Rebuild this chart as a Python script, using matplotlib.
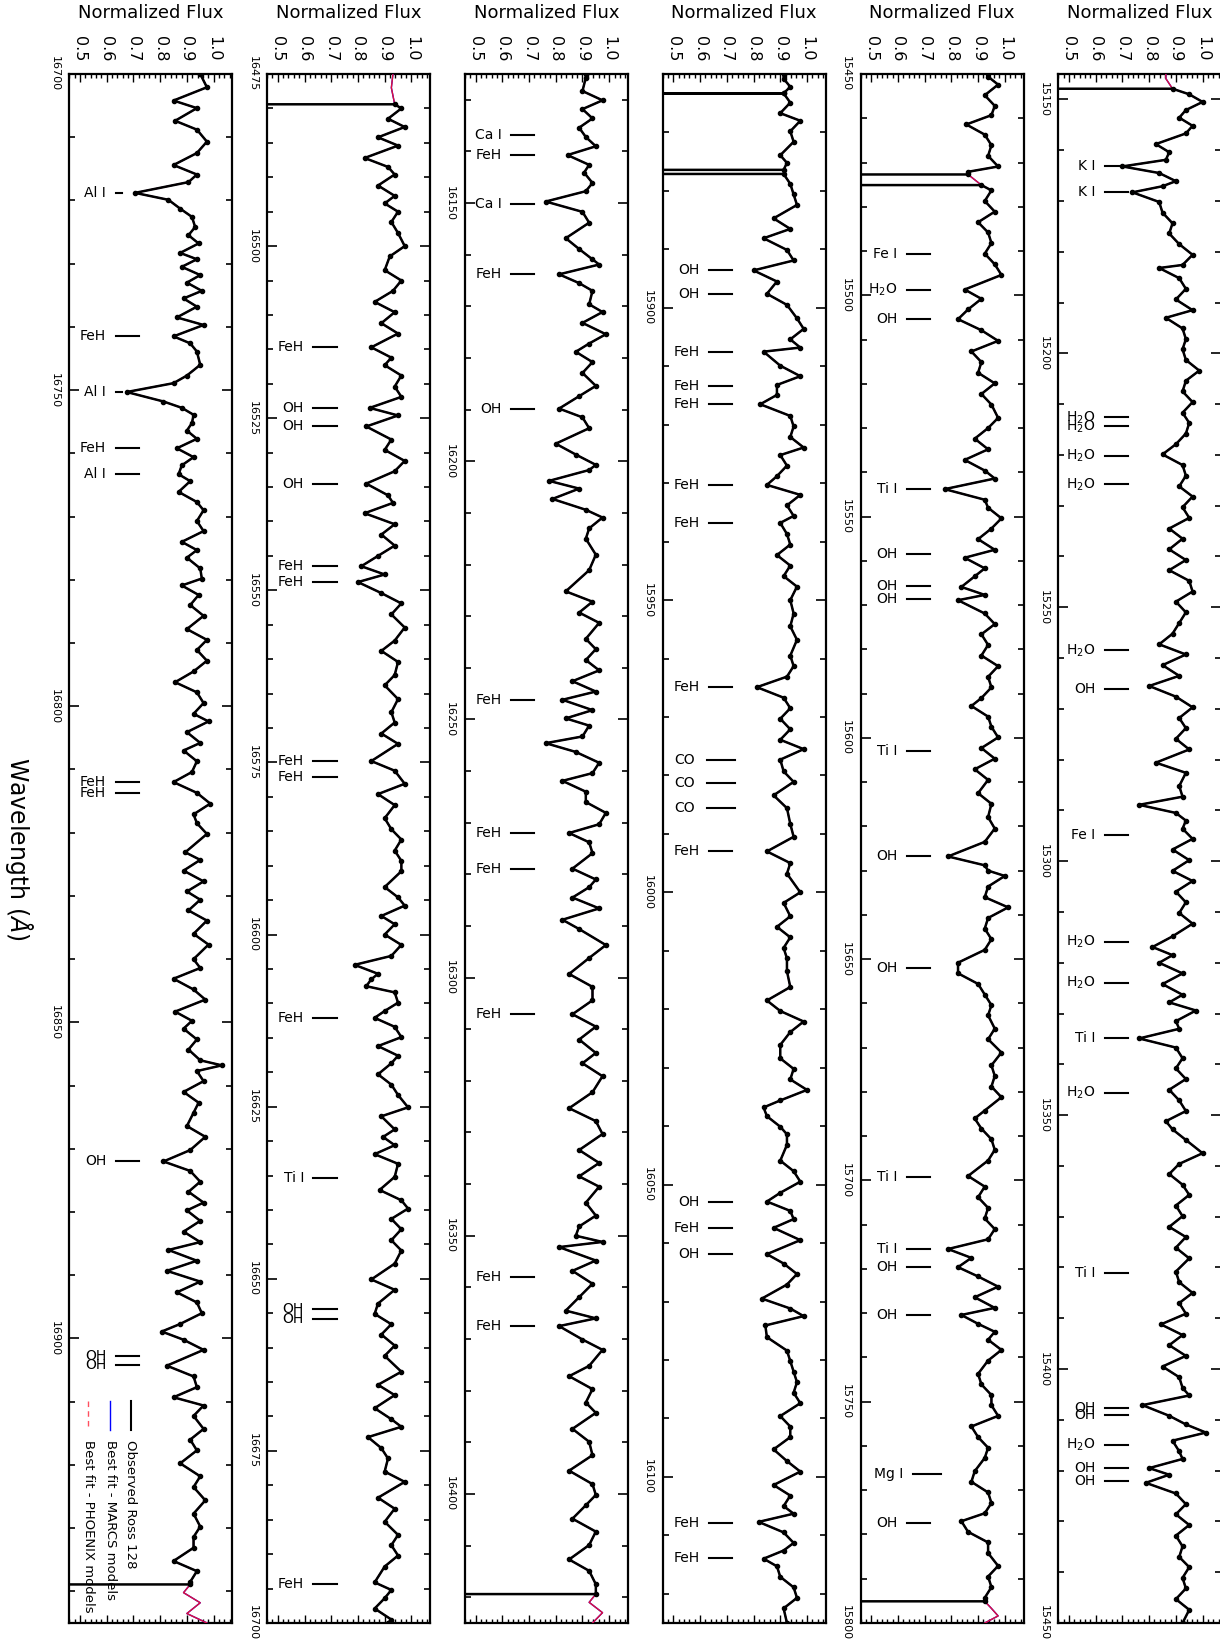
import numpy as np
import matplotlib
matplotlib.use("Agg")
import matplotlib.pyplot as plt
from matplotlib.ticker import MultipleLocator, FormatStrFormatter

# ---------------- data ----------------
# each spectrum: (wavelength [A], normalized flux) knots; models follow the observed curve
spec_p1 = [(16700.0, 0.95), (16702.1, 0.975), (16704.2, 0.85), (16705.4, 0.9375), (16707.4, 0.856), (16708.8, 0.9375),
           (16710.7, 0.975), (16712.5, 0.9375), (16714.4, 0.85), (16715.9, 0.9375), (16717.1, 0.906), (16718.8, 0.706),
           (16719.9, 0.831), (16721.3, 0.875), (16722.6, 0.919), (16724.2, 0.931), (16725.5, 0.906), (16726.8, 0.944),
           (16728.3, 0.875), (16729.3, 0.9375), (16730.5, 0.881), (16731.8, 0.95), (16733.0, 0.90), (16734.3, 0.956),
           (16735.5, 0.8875), (16736.8, 0.9375), (16738.5, 0.8625), (16739.7, 0.9625), (16741.5, 0.85), (16742.6, 0.9125),
           (16743.9, 0.9375), (16746.0, 0.95), (16747.7, 0.90), (16748.9, 0.85), (16750.3, 0.675), (16751.8, 0.8125),
           (16752.8, 0.881), (16753.9, 0.925), (16755.2, 0.919), (16756.4, 0.90), (16757.7, 0.9375), (16759.2, 0.8625),
           (16760.6, 0.925), (16761.9, 0.881), (16763.3, 0.869), (16764.4, 0.9125), (16766.1, 0.869), (16767.7, 0.9375),
           (16769.0, 0.9625), (16770.7, 0.9375), (16772.3, 0.9625), (16774.0, 0.881), (16775.3, 0.9375), (16776.5, 0.90),
           (16778.2, 0.95), (16779.8, 0.956), (16780.9, 0.881), (16782.4, 0.944), (16784.0, 0.9125), (16785.7, 0.9625),
           (16787.8, 0.90), (16789.5, 0.975), (16791.1, 0.9375), (16792.8, 0.975), (16794.5, 0.925), (16796.2, 0.856),
           (16797.8, 0.9375), (16799.5, 0.9625), (16801.2, 0.925), (16802.4, 0.981), (16804.1, 0.90), (16805.8, 0.95),
           (16807.0, 0.8875), (16808.7, 0.9375), (16810.4, 0.919), (16812.0, 0.85), (16813.7, 0.9375), (16815.4, 0.9875),
           (16817.1, 0.925), (16818.5, 0.9375), (16820.2, 0.975), (16823.1, 0.894), (16824.3, 0.95), (16826.0, 0.8875),
           (16827.7, 0.9625), (16829.3, 0.90), (16830.6, 0.95), (16832.3, 0.906), (16833.9, 0.975), (16836.0, 0.925),
           (16837.7, 0.981), (16840.0, 0.925), (16841.4, 0.95), (16843.1, 0.85), (16844.8, 0.925), (16846.4, 0.969),
           (16848.3, 0.856), (16849.75, 0.919), (16851.0, 0.8875), (16852.7, 0.9375), (16854.3, 0.906), (16856.0, 0.95),
           (16856.8, 1.031), (16857.7, 0.9375), (16859.3, 0.9625), (16861.0, 0.8875), (16862.7, 0.944), (16864.3, 0.925),
           (16866.4, 0.90), (16868.1, 0.969), (16870.2, 0.9125), (16872.0, 0.8125), (16873.5, 0.9125), (16875.2, 0.95),
           (16876.8, 0.906), (16878.5, 0.9625), (16879.75, 0.90), (16881.4, 0.95), (16883.1, 0.8875), (16884.75, 0.95),
           (16886.0, 0.831), (16887.7, 0.9375), (16889.3, 0.825), (16891.0, 0.95), (16892.7, 0.8625), (16894.3, 0.9375),
           (16896.0, 0.956), (16897.7, 0.875), (16898.9, 0.806), (16900.2, 0.8875), (16901.8, 0.9625), (16904.3, 0.825),
           (16906.0, 0.925), (16907.7, 0.9375), (16909.3, 0.85), (16910.6, 0.9625), (16912.25, 0.925), (16914.3, 0.9625),
           (16916.0, 0.9125), (16917.7, 0.9375), (16919.75, 0.875), (16921.8, 0.95), (16923.5, 0.925), (16925.6, 0.969),
           (16927.7, 0.925), (16929.75, 0.95), (16931.4, 0.925), (16933.1, 0.925), (16935.2, 0.85), (16936.8, 0.9375),
           (16938.5, 0.9125), (16938.9, 0.9125), (16940.2, 0.8875), (16941.8, 0.95), (16943.5, 0.90), (16945.0, 0.975)]

spec_p2 = [(16475.0, 0.931), (16477.0, 0.925), (16479.4, 0.9375), (16480.0, 0.9625), (16481.5, 0.9125), (16482.7, 0.975),
           (16484.2, 0.875), (16485.4, 0.95), (16487.2, 0.825), (16488.5, 0.9125), (16489.6, 0.9375), (16491.2, 0.875),
           (16492.7, 0.9375), (16493.8, 0.90), (16495.0, 0.95), (16496.5, 0.925), (16498.1, 0.95), (16500.0, 0.975),
           (16501.5, 0.919), (16503.5, 0.90), (16505.0, 0.9625), (16506.5, 0.931), (16508.1, 0.8625), (16509.6, 0.9375),
           (16511.2, 0.8875), (16512.7, 0.95), (16514.7, 0.85), (16516.2, 0.925), (16517.3, 0.90), (16518.8, 0.9625),
           (16520.4, 0.9375), (16521.9, 0.9625), (16523.5, 0.844), (16524.6, 0.95), (16526.2, 0.831), (16528.1, 0.925),
           (16529.6, 0.90), (16531.2, 0.975), (16532.7, 0.9375), (16534.5, 0.831), (16536.2, 0.9125), (16537.3, 0.931),
           (16538.8, 0.825), (16540.4, 0.9375), (16541.9, 0.8875), (16543.5, 0.9375), (16545.0, 0.875), (16546.5, 0.8125),
           (16547.7, 0.90), (16548.8, 0.80), (16550.4, 0.8875), (16551.9, 0.9625), (16553.5, 0.925), (16555.4, 0.975),
           (16557.3, 0.9375), (16558.8, 0.8875), (16560.4, 0.95), (16562.3, 0.9375), (16563.8, 0.90), (16565.8, 0.95),
           (16567.7, 0.925), (16569.2, 0.9375), (16570.8, 0.8875), (16572.3, 0.95), (16574.8, 0.85), (16576.2, 0.9375),
           (16578.1, 0.975), (16579.6, 0.875), (16581.2, 0.9375), (16583.1, 0.90), (16584.7, 0.925), (16586.2, 0.9625),
           (16587.8, 0.9375), (16589.3, 0.9625), (16590.8, 0.9625), (16593.1, 0.90), (16594.6, 0.95), (16595.8, 0.975),
           (16597.3, 0.8875), (16598.5, 0.9375), (16600.0, 0.90), (16601.5, 0.9625), (16603.1, 0.925), (16604.4, 0.7875),
           (16605.7, 0.875), (16606.5, 0.85), (16607.5, 0.831), (16608.4, 0.9375), (16609.9, 0.95), (16611.1, 0.90),
           (16612.1, 0.8625), (16613.4, 0.9375), (16614.9, 0.9625), (16616.2, 0.875), (16617.6, 0.95), (16618.7, 0.925),
           (16620.3, 0.875), (16621.8, 0.925), (16623.3, 0.95), (16625.1, 0.9875), (16626.4, 0.8875), (16628.3, 0.9375),
           (16629.4, 0.894), (16630.6, 0.9375), (16631.9, 0.8625), (16633.3, 0.95), (16635.2, 0.9375), (16637.1, 0.881),
           (16638.6, 0.9625), (16639.8, 0.9875), (16641.3, 0.925), (16642.8, 0.9625), (16644.4, 0.925), (16645.9, 0.9625),
           (16647.8, 0.9375), (16650.1, 0.85), (16651.6, 0.9375), (16653.6, 0.875), (16655.1, 0.8625), (16656.6, 0.925),
           (16658.1, 0.8875), (16659.7, 0.9375), (16661.2, 0.90), (16663.5, 0.9625), (16665.4, 0.875), (16666.9, 0.9375),
           (16668.8, 0.8625), (16670.4, 0.925), (16671.5, 0.9625), (16673.0, 0.8375), (16674.6, 0.8875), (16676.1, 0.9125),
           (16678.0, 0.90), (16679.5, 0.975), (16681.8, 0.875), (16683.4, 0.9375), (16685.3, 0.90), (16687.2, 0.95),
           (16688.7, 0.925), (16690.2, 0.95), (16691.8, 0.90), (16694.1, 0.8625), (16695.2, 0.925), (16696.4, 0.90),
           (16697.9, 0.8625), (16699.5, 0.925), (16700.0, 0.9125)]

spec_p3 = [(16125.0, 0.9125), (16125.7, 0.9125), (16128.3, 0.90), (16130.1, 0.975), (16131.8, 0.90), (16133.6, 0.9375),
           (16135.4, 0.8875), (16137.2, 0.9125), (16139.0, 0.95), (16140.7, 0.844), (16142.6, 0.925), (16144.1, 0.906),
           (16146.1, 0.9375), (16147.7, 0.9125), (16149.7, 0.7625), (16151.7, 0.90), (16153.8, 0.925), (16156.8, 0.8375),
           (16158.9, 0.8875), (16160.9, 0.9375), (16161.9, 0.9625), (16163.8, 0.8125), (16165.5, 0.8875), (16167.0, 0.9375),
           (16169.6, 0.925), (16171.1, 0.975), (16173.2, 0.90), (16175.4, 0.9875), (16177.2, 0.925), (16178.8, 0.875),
           (16180.8, 0.9375), (16182.9, 0.90), (16185.4, 0.95), (16187.4, 0.8875), (16189.8, 0.8125), (16191.5, 0.90),
           (16193.6, 0.925), (16196.6, 0.80), (16198.7, 0.875), (16200.7, 0.95), (16201.7, 0.925), (16203.8, 0.775),
           (16205.3, 0.8875), (16207.3, 0.7875), (16209.4, 0.9125), (16210.9, 0.975), (16213.0, 0.925), (16215.0, 0.9125),
           (16218.1, 0.95), (16221.1, 0.925), (16225.2, 0.8375), (16227.2, 0.9375), (16229.3, 0.8875), (16231.3, 0.9625),
           (16234.4, 0.9125), (16236.4, 0.95), (16238.5, 0.9125), (16240.5, 0.9625), (16242.6, 0.8625), (16244.6, 0.95),
           (16246.2, 0.825), (16248.2, 0.9375), (16249.8, 0.8375), (16251.2, 0.925), (16253.3, 0.90), (16254.6, 0.7625),
           (16256.3, 0.875), (16258.4, 0.9625), (16260.4, 0.9375), (16261.9, 0.825), (16264.0, 0.9125), (16266.0, 0.9125),
           (16268.1, 0.9875), (16270.3, 0.9625), (16272.0, 0.85), (16273.8, 0.925), (16275.9, 0.9375), (16278.9, 0.8625),
           (16281.0, 0.95), (16282.5, 0.925), (16284.5, 0.8625), (16286.6, 0.9625), (16288.8, 0.825), (16290.6, 0.8875),
           (16293.7, 0.9875), (16296.2, 0.925), (16299.3, 0.85), (16301.8, 0.9375), (16304.4, 0.9375), (16307.1, 0.8625),
           (16309.5, 0.95), (16312.0, 0.8875), (16314.6, 0.95), (16316.6, 0.90), (16319.1, 0.975), (16322.2, 0.9375),
           (16325.3, 0.85), (16327.8, 0.95), (16330.3, 0.975), (16333.4, 0.8875), (16335.9, 0.9625), (16338.5, 0.8875),
           (16340.5, 0.9625), (16343.6, 0.9125), (16346.1, 0.95), (16348.2, 0.8875), (16350.0, 0.875), (16351.2, 0.975),
           (16352.2, 0.8125), (16354.8, 0.95), (16356.8, 0.8625), (16359.3, 0.9375), (16361.9, 0.8875), (16364.5, 0.8375),
           (16366.0, 0.95), (16367.5, 0.8125), (16370.1, 0.90), (16372.1, 0.975), (16375.2, 0.925), (16377.2, 0.85),
           (16379.7, 0.9375), (16382.3, 0.9125), (16384.3, 0.95), (16387.4, 0.8625), (16389.9, 0.925), (16392.5, 0.9375),
           (16395.5, 0.85), (16398.1, 0.9375), (16400.2, 0.95), (16402.2, 0.9125), (16404.8, 0.8625), (16407.3, 0.95),
           (16409.9, 0.925), (16412.7, 0.85), (16414.9, 0.925), (16417.5, 0.95), (16419.4, 0.95), (16421.0, 0.925),
           (16423.0, 0.975), (16425.0, 0.9375)]

spec_p4 = [(15860.0, 0.9125), (15860.8, 0.9125), (15862.2, 0.9375), (15863.3, 0.9125), (15864.9, 0.9375), (15866.7, 0.90),
           (15868.0, 0.975), (15869.8, 0.9375), (15871.6, 0.95), (15873.9, 0.90), (15875.2, 0.925), (15876.4, 0.9125),
           (15877.1, 0.9125), (15878.8, 0.9375), (15880.6, 0.95), (15882.4, 0.9625), (15884.7, 0.875), (15886.5, 0.9375),
           (15888.1, 0.8375), (15890.1, 0.925), (15891.9, 0.95), (15893.6, 0.80), (15895.5, 0.8875), (15897.6, 0.85),
           (15899.5, 0.925), (15901.8, 0.9625), (15903.6, 0.9875), (15905.4, 0.9375), (15906.8, 0.975), (15907.5, 0.8375),
           (15909.9, 0.90), (15911.7, 0.975), (15913.2, 0.8875), (15914.9, 0.8875), (15916.5, 0.825), (15918.5, 0.9375),
           (15920.3, 0.95), (15922.1, 0.9375), (15923.9, 0.9875), (15925.2, 0.90), (15927.0, 0.925), (15928.8, 0.8875),
           (15930.3, 0.85), (15932.0, 0.975), (15933.8, 0.925), (15935.6, 0.95), (15936.8, 0.90), (15938.7, 0.925),
           (15940.5, 0.9375), (15942.3, 0.8875), (15944.1, 0.9375), (15945.9, 0.9125), (15947.7, 0.9625), (15950.0, 0.9375),
           (15952.3, 0.95), (15954.5, 0.9375), (15956.8, 0.9625), (15959.5, 0.9375), (15961.3, 0.95), (15963.1, 0.925),
           (15964.9, 0.8125), (15966.7, 0.9125), (15968.5, 0.9375), (15970.3, 0.90), (15972.1, 0.9375), (15973.9, 0.90),
           (15975.5, 0.9875), (15977.3, 0.90), (15979.3, 0.9125), (15981.1, 0.95), (15983.4, 0.875), (15985.6, 0.925),
           (15988.3, 0.9375), (15990.5, 0.95), (15993.0, 0.85), (15995.0, 0.9375), (15996.8, 0.925), (16000.0, 0.975),
           (16001.8, 0.9125), (16004.1, 0.9375), (16005.9, 0.8875), (16007.7, 0.9375), (16009.5, 0.9125), (16011.3, 0.925),
           (16013.5, 0.925), (16016.2, 0.9375), (16018.5, 0.85), (16020.3, 0.90), (16022.1, 0.9875), (16023.9, 0.9375),
           (16026.1, 0.90), (16028.4, 0.90), (16030.2, 0.95), (16032.0, 0.9375), (16033.8, 1.0), (16035.6, 0.90),
           (16036.8, 0.8375), (16038.3, 0.85), (16040.1, 0.90), (16041.4, 0.925), (16043.2, 0.925), (16045.9, 0.90),
           (16047.7, 0.95), (16049.5, 0.975), (16051.4, 0.90), (16052.9, 0.85), (16054.5, 0.9375), (16055.9, 0.95),
           (16057.4, 0.875), (16059.5, 0.975), (16061.9, 0.85), (16063.5, 0.9125), (16065.3, 0.9625), (16067.1, 0.925),
           (16069.5, 0.831), (16071.2, 0.9375), (16072.5, 0.9875), (16074.1, 0.844), (16076.1, 0.85), (16078.4, 0.925),
           (16080.2, 0.9375), (16082.0, 0.95), (16083.8, 0.9625), (16085.6, 0.95), (16087.4, 0.975), (16089.6, 0.90),
           (16091.4, 0.9375), (16093.2, 0.9375), (16095.3, 0.875), (16097.3, 0.925), (16099.1, 0.975), (16101.4, 0.875),
           (16103.2, 0.9375), (16105.0, 0.9125), (16106.3, 0.95), (16107.7, 0.819), (16109.5, 0.9125), (16111.3, 0.95),
           (16112.6, 0.9125), (16114.0, 0.8375), (16115.3, 0.8875), (16117.1, 0.90), (16118.9, 0.95), (16120.7, 0.9625),
           (16122.5, 0.9125), (16125.0, 0.925)]

spec_p5 = [(15450.0, 0.9375), (15450.6, 0.9375), (15452.4, 0.975), (15454.8, 0.925), (15457.2, 0.9625), (15459.3, 0.95),
           (15461.4, 0.856), (15463.7, 0.925), (15466.1, 0.95), (15468.5, 0.9375), (15470.9, 0.975), (15472.1, 0.8625),
           (15472.7, 0.8625), (15475.1, 0.9125), (15476.3, 0.95), (15478.7, 0.925), (15481.1, 0.9625), (15483.5, 0.90),
           (15485.8, 0.9375), (15488.2, 0.95), (15490.6, 0.925), (15493.0, 0.9625), (15495.4, 0.9875), (15498.7, 0.85),
           (15500.8, 0.9125), (15503.2, 0.8625), (15505.4, 0.825), (15507.9, 0.9125), (15510.3, 0.975), (15512.7, 0.875),
           (15515.1, 0.9125), (15517.5, 0.90), (15519.9, 0.9625), (15522.3, 0.9125), (15524.7, 0.95), (15527.7, 0.975),
           (15530.0, 0.9375), (15532.4, 0.8875), (15534.8, 0.9375), (15537.2, 0.85), (15539.6, 0.925), (15541.4, 0.9625),
           (15543.8, 0.775), (15546.2, 0.925), (15548.0, 0.9375), (15550.4, 0.9875), (15552.7, 0.95), (15555.1, 0.90),
           (15557.5, 0.9625), (15559.3, 0.85), (15561.7, 0.925), (15563.5, 0.8875), (15565.9, 0.8375), (15567.7, 0.925),
           (15568.9, 0.825), (15571.9, 0.925), (15574.3, 0.9625), (15576.6, 0.9125), (15579.0, 0.9375), (15581.4, 0.9125),
           (15583.8, 0.975), (15586.2, 0.9375), (15588.6, 0.95), (15591.0, 0.9125), (15592.8, 0.875), (15595.2, 0.9375),
           (15597.5, 0.95), (15599.9, 0.975), (15602.3, 0.9125), (15604.7, 0.9625), (15607.1, 0.8875), (15609.5, 0.9375),
           (15612.5, 0.90), (15614.9, 0.95), (15617.9, 0.9375), (15620.5, 0.9625), (15623.5, 0.925), (15626.8, 0.7875),
           (15628.8, 0.925), (15630.0, 0.9375), (15631.2, 1.0), (15633.6, 0.9375), (15636.0, 0.925), (15638.3, 1.0125),
           (15640.7, 0.9375), (15643.1, 0.925), (15645.5, 0.95), (15647.9, 0.925), (15650.8, 0.825), (15653.2, 0.825),
           (15655.6, 0.90), (15658.0, 0.925), (15660.4, 0.95), (15662.7, 0.9375), (15665.7, 0.9625), (15668.1, 0.9375),
           (15671.1, 0.9875), (15674.0, 0.95), (15676.4, 0.9625), (15678.8, 0.95), (15681.2, 0.9875), (15684.2, 0.925),
           (15686.0, 0.8875), (15688.3, 0.9125), (15690.7, 0.95), (15693.1, 0.9625), (15695.5, 0.9375), (15699.0, 0.8625),
           (15701.4, 0.925), (15703.8, 0.90), (15706.2, 0.9375), (15708.6, 0.925), (15711.0, 0.9625), (15713.3, 0.9375),
           (15715.5, 0.7875), (15717.5, 0.875), (15719.6, 0.825), (15721.7, 0.90), (15724.0, 0.975), (15726.4, 0.8875),
           (15728.8, 0.9625), (15730.4, 0.8375), (15732.4, 0.90), (15734.2, 0.9625), (15736.0, 0.9375), (15738.3, 0.9875),
           (15740.7, 0.9375), (15743.7, 0.90), (15746.1, 0.9125), (15748.5, 0.95), (15750.8, 0.95), (15753.2, 0.975),
           (15755.6, 0.875), (15758.0, 0.90), (15760.4, 0.9375), (15762.7, 0.925), (15765.7, 0.8875), (15768.1, 0.875),
           (15770.5, 0.9375), (15772.9, 0.95), (15775.2, 0.925), (15777.0, 0.8375), (15779.4, 0.8625), (15781.8, 0.9375),
           (15784.2, 0.9375), (15787.1, 0.975), (15789.5, 0.9375), (15791.9, 0.95), (15794.3, 0.925), (15795.1, 0.925),
           (15796.7, 0.95), (15798.4, 0.975), (15800.0, 0.925)]

spec_p6 = [(15145.0, 0.8625), (15145.9, 0.8625), (15147.9, 0.8875), (15149.0, 0.95), (15150.5, 1.0), (15152.1, 0.9375),
           (15153.6, 0.9125), (15155.2, 0.9625), (15156.7, 0.9375), (15158.8, 0.825), (15160.4, 0.875), (15161.9, 0.8625),
           (15163.2, 0.70), (15164.5, 0.8375), (15166.1, 0.90), (15167.1, 0.85), (15168.3, 0.7375), (15170.2, 0.8375),
           (15172.3, 0.85), (15174.4, 0.8875), (15176.4, 0.875), (15178.5, 0.9125), (15180.6, 0.9625), (15182.6, 0.925),
           (15183.2, 0.8375), (15185.2, 0.9125), (15187.3, 0.9375), (15189.4, 0.90), (15191.5, 0.9625), (15193.0, 0.8625),
           (15195.1, 0.925), (15197.2, 0.9375), (15199.2, 0.925), (15201.3, 0.9375), (15203.4, 0.9875), (15205.4, 0.9375),
           (15207.5, 0.925), (15209.6, 0.9625), (15211.7, 0.925), (15213.7, 0.95), (15215.8, 0.9375), (15217.9, 0.90),
           (15219.9, 0.85), (15222.0, 0.925), (15224.1, 0.9375), (15226.2, 0.9125), (15228.2, 0.9625), (15230.3, 0.925),
           (15232.4, 0.95), (15234.5, 0.875), (15236.5, 0.925), (15238.6, 0.875), (15240.7, 0.9375), (15242.7, 0.875),
           (15244.8, 0.95), (15246.9, 0.9625), (15248.9, 0.90), (15251.0, 0.9375), (15253.1, 0.9125), (15255.2, 0.8875),
           (15257.3, 0.8375), (15259.3, 0.9375), (15261.4, 0.85), (15263.5, 0.9125), (15265.5, 0.80), (15267.6, 0.90),
           (15269.7, 0.9625), (15271.8, 0.9125), (15273.8, 0.9375), (15275.9, 0.90), (15278.0, 0.95), (15280.6, 0.825),
           (15282.6, 0.9375), (15285.2, 0.9125), (15287.3, 0.925), (15288.9, 0.7625), (15290.5, 0.90), (15292.0, 0.9375),
           (15293.6, 0.925), (15295.6, 0.9625), (15297.7, 0.8875), (15299.8, 0.95), (15301.9, 0.8875), (15303.9, 0.9625),
           (15306.0, 0.90), (15308.1, 0.9375), (15310.2, 0.9125), (15312.3, 0.9625), (15314.8, 0.8875), (15316.9, 0.8125),
           (15318.5, 0.8875), (15320.0, 0.8375), (15322.1, 0.925), (15324.2, 0.85), (15326.3, 0.925), (15327.8, 0.875),
           (15329.4, 0.975), (15331.5, 0.90), (15333.0, 0.9125), (15334.9, 0.7625), (15336.7, 0.90), (15338.8, 0.925),
           (15340.8, 0.90), (15342.9, 0.9375), (15345.0, 0.875), (15347.1, 0.9125), (15349.2, 0.9375), (15351.2, 0.8625),
           (15352.8, 0.8875), (15354.9, 0.9375), (15357.5, 1.0), (15359.6, 0.9125), (15361.6, 0.875), (15363.7, 0.925),
           (15365.7, 0.95), (15367.8, 0.90), (15369.9, 0.925), (15372.0, 0.875), (15374.0, 0.9375), (15376.1, 0.90),
           (15378.2, 0.95), (15380.8, 0.90), (15382.9, 0.9125), (15385.0, 0.9625), (15387.0, 0.9125), (15389.1, 0.9375),
           (15391.2, 0.844), (15393.3, 0.925), (15395.3, 0.875), (15397.4, 0.9375), (15399.5, 0.85), (15401.6, 0.9125),
           (15403.7, 0.925), (15405.2, 0.95), (15407.1, 0.775), (15409.2, 0.875), (15410.9, 0.9375), (15412.5, 1.0125),
           (15414.1, 0.8875), (15416.2, 0.9125), (15417.7, 0.925), (15419.5, 0.80), (15420.8, 0.875), (15422.4, 0.7875),
           (15424.5, 0.90), (15426.6, 0.9375), (15428.6, 0.90), (15430.7, 0.95), (15432.8, 0.90), (15434.9, 0.925),
           (15437.0, 0.9125), (15439.0, 0.95), (15441.1, 0.925), (15443.2, 0.9375), (15445.3, 0.90), (15447.4, 0.95),
           (15450.0, 0.925)]

# wavelength ranges of the panels (left column first)
ranges = [(16700, 16945), (16475, 16700), (16125, 16425), (15860, 16125), (15450, 15800), (15145, 15450)]
# observed coverage: (start, end, drop at start, drop at end)
obs_cover = [(16700.0, 16938.9, False, True), (16479.4, 16700.0, True, False), (16125.0, 16419.4, False, True),
             (15860.0, 16125.0, False, False), (15450.0, 15795.1, False, True), (15147.9, 15450.0, True, False)]
# bad-pixel dropouts of the observed spectrum (start, end)
obs_drops = [[], [], [], [(15863.3, 15863.3), (15876.4, 15877.1)], [(15472.7, 15475.1)], []]

# line identifications
lines_p1 = [("Al I", 16718.9), ("FeH", 16741.5), ("Al I", 16750.3), ("FeH", 16759.2), ("Al I", 16763.3),
            ("FeH", 16812.0), ("FeH", 16813.7), ("OH", 16872.0), ("OH", 16902.8), ("OH", 16904.2)]
lines_p2 = [("FeH", 16514.7), ("OH", 16523.5), ("OH", 16526.2), ("OH", 16534.5), ("FeH", 16546.5), ("FeH", 16548.8),
            ("FeH", 16574.8), ("FeH", 16577.1), ("FeH", 16612.1), ("Ti I", 16635.4), ("OH", 16654.4), ("OH", 16655.9),
            ("FeH", 16694.4)]
lines_p3 = [("Ca I", 16136.9), ("FeH", 16140.7), ("Ca I", 16150.1), ("FeH", 16163.8), ("OH", 16189.8), ("FeH", 16246.2),
            ("FeH", 16272.0), ("FeH", 16278.9), ("FeH", 16307.1), ("FeH", 16358.0), ("FeH", 16367.5)]
lines_p4 = [("OH", 15893.6), ("OH", 15897.6), ("FeH", 15907.5), ("FeH", 15913.3), ("FeH", 15916.5), ("FeH", 15930.3),
            ("FeH", 15936.8), ("FeH", 15964.9), ("CO", 15977.3), ("CO", 15981.3), ("CO", 15985.6), ("FeH", 15993.0),
            ("OH", 16052.9), ("FeH", 16057.4), ("OH", 16061.9), ("FeH", 16107.9), ("FeH", 16113.8)]
lines_p5 = [("Fe I", 15490.6), ("H$_2$O", 15498.8), ("OH", 15505.4), ("Ti I", 15543.8), ("OH", 15558.5), ("OH", 15565.6),
            ("OH", 15568.6), ("Ti I", 15603.0), ("OH", 15626.8), ("OH", 15652.1), ("Ti I", 15699.2), ("Ti I", 15715.5),
            ("OH", 15719.6), ("OH", 15730.4), ("Mg I", 15766.3), ("OH", 15777.3)]
lines_p6 = [("K I", 15163.2), ("K I", 15168.3), ("H$_2$O", 15212.6), ("H$_2$O", 15214.4), ("H$_2$O", 15220.2),
            ("H$_2$O", 15225.8), ("H$_2$O", 15258.5), ("OH", 15266.1), ("Fe I", 15294.8), ("H$_2$O", 15315.9),
            ("H$_2$O", 15323.9), ("Ti I", 15334.9), ("H$_2$O", 15345.7), ("Ti I", 15381.0), ("OH", 15407.6),
            ("OH", 15409.1), ("H$_2$O", 15415.0), ("OH", 15419.4), ("OH", 15422.0)]

legend_labels = ["Observed Ross 128", "Best fit - MARCS models", "Best fit - PHOENIX models"]

specs = [spec_p1, spec_p2, spec_p3, spec_p4, spec_p5, spec_p6]
line_sets = [lines_p1, lines_p2, lines_p3, lines_p4, lines_p5, lines_p6]

# ---------------- styling ----------------
FLUX_LIM = (0.46, 1.07)
TEXT_X = 0.598
MARK_X = (0.633, 0.72)
mark_override = {("Al I", 16718.9): ((0.635, 0.656), TEXT_X), ("Al I", 16750.3): ((0.635, 0.656), TEXT_X),
                 ("Mg I", 15766.3): ((0.656, 0.762), 0.619)}
for _w in (15977.3, 15981.3, 15985.6):
    mark_override[("CO", _w)] = ((0.627, 0.731), 0.581)


def observed(spec, cover, drops):
    start, end, dstart, dend = cover
    out = []
    if dstart:
        out.append((start, 0.0))
    for w, f in spec:
        if w < start or w > end:
            continue
        if any(a < w < b for a, b in drops):
            continue
        if any(w == b and a != b for a, b in drops):
            out.append((w, 0.0))
        out.append((w, f))
        for a, b in drops:
            if w == a:
                out.append((w, 0.0))
                if a == b:
                    out.append((w, f))
    if dend:
        out.append((end, 0.0))
    return np.array(out)


W, H = 1220, 1648
fig = plt.figure(figsize=(W / 100, H / 100), dpi=100)
ax_left0, ax_step, ax_w = 69.3, 197.8, 163.0
ax_top, ax_bot = 74.0, 1623.0

axes = []
for i in range(6):
    rect = [(ax_left0 + i * ax_step) / W, 1 - ax_bot / H, ax_w / W, (ax_bot - ax_top) / H]
    ax = fig.add_axes(rect)
    axes.append(ax)
    spec = np.array(specs[i])
    wl, fx = spec[:, 0], spec[:, 1]
    ax.plot(fx, wl, color="blue", lw=1.0, zorder=3)
    ax.plot(fx, wl, color="#e0103a", lw=1.0, zorder=4)
    obs = observed(specs[i], obs_cover[i], obs_drops[i])
    ax.plot(obs[:, 1], obs[:, 0], color="black", lw=1.8, marker="o", ms=3.0, zorder=5)

    for name, w in line_sets[i]:
        (x0, x1), tx = mark_override.get((name, w), (MARK_X, TEXT_X))
        ax.plot([x0, x1], [w, w], color="black", lw=1.5, zorder=2)
        ax.text(tx, w, name, ha="right", va="center", fontsize=10, zorder=2)

    lo, hi = ranges[i]
    ax.set_xlim(*FLUX_LIM)
    ax.set_ylim(hi, lo)

    # flux axis (top)
    ax.xaxis.set_major_locator(MultipleLocator(0.1))
    ax.xaxis.set_minor_locator(MultipleLocator(0.02))
    ax.xaxis.set_major_formatter(FormatStrFormatter("%.1f"))
    ax.tick_params(axis="x", which="both", direction="in", top=True, bottom=True,
                   labeltop=True, labelbottom=False, labelrotation=-90, labelsize=11.5, pad=9)
    ax.tick_params(axis="x", which="major", length=6, width=1)
    ax.tick_params(axis="x", which="minor", length=3, width=1)
    ax.xaxis.set_label_position("top")
    ax.set_xlabel("Normalized Flux", fontsize=13, labelpad=13)

    # wavelength axis (left)
    if i == 1:
        ax.yaxis.set_major_locator(MultipleLocator(25))
        ax.yaxis.set_minor_locator(MultipleLocator(5))
    else:
        ax.yaxis.set_major_locator(MultipleLocator(50))
        ax.yaxis.set_minor_locator(MultipleLocator(10))
    ax.yaxis.set_major_formatter(FormatStrFormatter("%d"))
    ax.tick_params(axis="y", which="both", direction="in", left=True, right=True,
                   labelleft=True, labelright=False, labelsize=8, pad=7)
    ax.tick_params(axis="y", which="major", length=7, width=1.2)
    ax.tick_params(axis="y", which="minor", length=4, width=1.2)
    for sp in ax.spines.values():
        sp.set_linewidth(1.6)

# rotate wavelength tick labels after the locators are fixed
fig.canvas.draw()
for ax in axes:
    for lab in ax.get_yticklabels():
        lab.set_rotation(-90)
        lab.set_va("center")
        lab.set_ha("right")

# legend (drawn by hand in the rotated frame)
ax0 = axes[0]
leg_x = [0.377, 0.25, 0.117]
leg_style = [dict(color="black", lw=1.5), dict(color="blue", lw=1.0),
             dict(color="#ff5060", lw=1.0, linestyle=(0, (4, 3)))]
for x, lab, st in zip(leg_x, legend_labels, leg_style):
    ax0.plot([x, x], [0.1433, 0.1246], transform=ax0.transAxes, clip_on=False, zorder=6, **st)
    ax0.text(x, 0.118, lab, transform=ax0.transAxes, rotation=-90, ha="center", va="top",
             fontsize=9.5, clip_on=False, zorder=6)

fig.text(19 / W, 1 - 849 / H, "Wavelength ($\\AA$)", rotation=-90, ha="center", va="center", fontsize=17)

fig.savefig("out.png", dpi=100)
